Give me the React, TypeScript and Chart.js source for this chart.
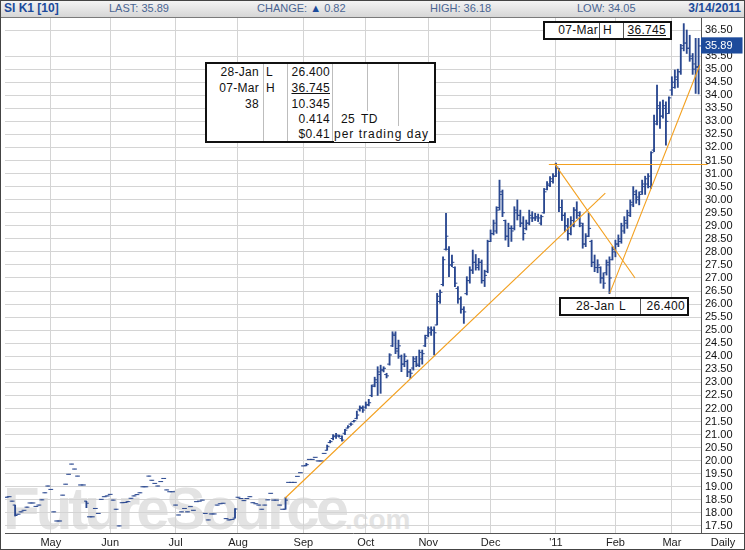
import React, { useEffect, useRef } from "react";
import { Chart, registerables } from "chart.js";

Chart.register(...registerables);

const FONT = 'Arial, "Liberation Sans", Helvetica, sans-serif';

// x axis: trading-day index, month labels at first trading day of the month
const monthLabels = ["May", "Jun", "Jul", "Aug", "Sep", "Oct", "Nov", "Dec", "'11", "Feb", "Mar"];
const monthTickIndex = [15, 35, 57, 78, 100, 121, 142, 163, 185, 205, 224];

const priceTicks = [
  17.5, 18, 18.5, 19, 19.5, 20, 20.5, 21, 21.5, 22, 22.5, 23, 23.5, 24, 24.5, 25, 25.5, 26, 26.5,
  27, 27.5, 28, 28.5, 29, 29.5, 30, 30.5, 31, 31.5, 32, 32.5, 33, 33.5, 34, 34.5, 35, 35.5, 36.5,
];
const lastPrice = 35.89;

// Daily OHLC, SI K1, 12-Apr-2010 .. 14-Mar-2011
const opens = [
  18.60, 18.62, 18.45, 18.30, 17.95, 18.04, 18.10, 18.22, 18.38, 18.38,
  18.25, 18.30, 18.50, 18.77, 19.03, 18.90, 18.04, 17.69, 17.69, 18.68,
  19.10, 19.48, 19.87, 19.68, 19.41, 19.07, 19.07, 18.45, 17.85, 17.85,
  18.17, 17.98, 18.52, 18.62, 18.65, 18.71, 18.49, 18.14, 17.50, 18.39,
  18.40, 18.43, 18.56, 18.65, 18.70, 18.77, 19.00, 19.00, 19.41, 19.25,
  19.13, 19.03, 19.20, 19.32, 18.88, 18.81, 18.81, 18.30, 17.92, 18.04,
  18.17, 18.04, 18.24, 18.10, 18.43, 18.45, 18.49, 17.98, 17.73, 17.96,
  17.96, 18.30, 18.35, 18.37, 17.78, 17.73, 17.75, 17.80, 18.60, 18.55,
  18.47, 18.55, 18.62, 18.39, 18.35, 18.30, 18.14, 18.30, 18.50, 18.75,
  18.49, 18.49, 18.30, 18.14, 18.14, 19.17, 19.17, 19.17, 19.40, 19.54,
  19.80, 19.82, 20.05, 20.05, 20.13, 19.99, 19.99, 20.28, 20.40, 20.70,
  20.85, 20.95, 20.94, 20.85, 21.05, 21.25, 21.40, 21.50, 21.62, 21.95,
  22.00, 22.05, 22.15, 22.50, 22.90, 23.00, 23.30, 23.45, 23.30, 23.70,
  24.40, 24.80, 24.20, 24.00, 23.70, 23.80, 23.40, 23.55, 23.80, 23.65,
  23.90, 24.40, 24.80, 24.90, 25.00, 25.20, 26.10, 26.75, 28.10, 28.10,
  27.50, 27.40, 26.60, 26.20, 25.80, 26.40, 26.90, 27.30, 27.60, 27.40,
  27.60, 26.90, 27.25, 28.40, 28.70, 28.80, 29.70, 30.30, 29.20, 28.60,
  28.90, 28.90, 29.50, 29.40, 29.10, 28.90, 29.10, 29.30, 29.30, 29.30,
  29.10, 29.50, 30.40, 30.55, 30.70, 30.90, 31.20, 29.70, 29.40, 29.00,
  28.70, 29.00, 29.60, 29.40, 29.00, 28.30, 28.60, 28.40, 27.60, 27.40,
  27.40, 27.00, 27.20, 27.50, 27.70, 28.00, 28.30, 28.40, 28.80, 29.10,
  29.40, 29.80, 30.20, 30.00, 30.30, 30.50, 30.60, 30.50, 31.90, 32.90,
  33.50, 33.20, 33.50, 33.30, 34.20, 34.30, 34.60, 34.90, 35.90, 36.00,
  35.80, 35.40, 35.20, 35.10,
];
const highs = [
  18.60, 18.62, 18.45, 18.30, 17.95, 18.04, 18.10, 18.22, 18.38, 18.38,
  18.25, 18.30, 18.50, 18.77, 19.03, 18.90, 18.04, 17.69, 17.69, 18.68,
  19.10, 19.48, 19.87, 19.68, 19.41, 19.07, 19.07, 18.45, 17.85, 17.85,
  18.17, 17.98, 18.52, 18.62, 18.65, 18.71, 18.49, 18.14, 17.50, 18.39,
  18.40, 18.43, 18.56, 18.65, 18.70, 18.77, 19.00, 19.00, 19.41, 19.25,
  19.13, 19.03, 19.20, 19.32, 18.88, 18.81, 18.81, 18.30, 17.92, 18.04,
  18.17, 18.04, 18.24, 18.10, 18.43, 18.45, 18.49, 17.98, 17.73, 17.96,
  17.96, 18.30, 18.35, 18.37, 17.78, 17.73, 17.75, 18.17, 18.60, 18.55,
  18.47, 18.55, 18.62, 18.39, 18.35, 18.30, 18.14, 18.30, 18.50, 18.75,
  18.49, 18.49, 18.30, 18.14, 18.60, 19.17, 19.17, 19.17, 19.40, 19.54,
  19.80, 19.90, 20.05, 20.05, 20.13, 19.99, 19.99, 20.28, 20.60, 20.78,
  21.00, 21.05, 20.98, 20.95, 21.20, 21.35, 21.45, 21.55, 21.90, 22.10,
  22.10, 22.25, 22.35, 22.90, 23.20, 23.60, 23.66, 23.60, 23.35, 24.10,
  24.94, 24.94, 24.62, 24.05, 24.10, 23.86, 23.50, 23.99, 24.00, 24.24,
  24.24, 24.81, 25.13, 25.13, 25.13, 26.41, 26.54, 27.81, 29.48, 28.20,
  27.88, 27.43, 26.67, 26.28, 25.90, 27.05, 27.43, 28.07, 27.90, 27.75,
  27.69, 27.30, 28.45, 28.84, 29.22, 29.73, 30.75, 30.37, 29.22, 29.10,
  29.00, 29.73, 29.99, 29.60, 29.35, 29.22, 29.60, 29.54, 29.48, 29.45,
  29.41, 30.43, 30.69, 30.88, 31.00, 31.40, 31.20, 29.99, 29.50, 29.28,
  29.35, 29.70, 29.92, 29.54, 29.10, 28.70, 29.48, 28.45, 27.88, 27.70,
  27.43, 27.20, 27.69, 27.81, 28.20, 28.45, 28.65, 29.10, 29.35, 29.60,
  29.99, 30.50, 30.37, 30.30, 30.75, 30.90, 31.00, 31.84, 33.24, 34.39,
  33.75, 33.82, 33.75, 33.94, 34.71, 34.97, 35.00, 35.95, 36.745, 36.50,
  36.30, 35.60, 36.18, 36.18,
];
const lows = [
  18.60, 18.62, 18.45, 17.88, 17.95, 18.04, 18.10, 18.22, 18.38, 18.38,
  18.25, 18.30, 18.50, 18.77, 19.03, 18.90, 18.04, 17.69, 17.69, 18.68,
  19.10, 19.48, 19.87, 19.68, 19.41, 19.07, 19.07, 18.20, 17.85, 17.85,
  18.17, 17.98, 18.52, 18.62, 18.65, 18.71, 18.49, 18.14, 17.50, 18.39,
  18.40, 18.43, 18.56, 18.65, 18.70, 18.77, 19.00, 19.00, 19.41, 19.25,
  19.13, 19.03, 19.20, 19.32, 18.88, 18.81, 18.81, 18.30, 17.92, 18.04,
  18.17, 18.04, 18.24, 18.10, 18.43, 18.45, 18.49, 17.98, 17.73, 17.96,
  17.96, 18.30, 18.35, 18.37, 17.78, 17.73, 17.75, 17.80, 18.60, 18.55,
  18.47, 18.55, 18.62, 18.39, 18.35, 18.30, 18.14, 18.30, 18.50, 18.75,
  18.49, 18.49, 18.30, 18.14, 18.14, 19.17, 19.17, 19.17, 19.40, 19.54,
  19.80, 19.80, 20.05, 20.05, 20.13, 19.99, 19.99, 20.28, 20.40, 20.68,
  20.80, 20.85, 20.90, 20.75, 21.00, 21.25, 21.35, 21.48, 21.60, 21.90,
  21.85, 22.00, 22.10, 22.45, 22.83, 22.50, 22.58, 23.40, 23.17, 23.66,
  24.37, 24.10, 23.92, 23.41, 23.60, 23.22, 23.15, 23.47, 23.60, 23.60,
  23.70, 24.37, 24.75, 24.80, 24.05, 25.20, 26.03, 26.70, 28.07, 27.05,
  27.43, 26.67, 26.03, 25.65, 25.26, 26.35, 26.80, 27.17, 27.30, 27.30,
  26.80, 26.67, 27.20, 28.39, 28.65, 28.71, 29.60, 29.35, 28.45, 28.20,
  28.40, 28.84, 29.22, 28.96, 28.45, 28.84, 29.03, 29.16, 29.20, 29.16,
  29.03, 29.48, 30.37, 30.50, 30.63, 30.88, 29.54, 29.20, 28.77, 28.45,
  28.65, 28.96, 29.28, 28.96, 28.14, 28.20, 28.58, 27.43, 27.24, 27.20,
  26.80, 26.60, 27.11, 26.40, 27.69, 27.81, 28.20, 28.33, 28.71, 28.90,
  29.35, 29.73, 29.86, 29.80, 30.20, 30.20, 30.45, 30.43, 31.84, 32.86,
  32.73, 33.12, 32.09, 33.30, 34.00, 34.27, 34.30, 34.80, 35.70, 35.60,
  35.30, 34.80, 34.07, 34.05,
];
const closes = [
  18.60, 18.62, 18.45, 17.90, 17.95, 18.04, 18.10, 18.22, 18.38, 18.38,
  18.25, 18.30, 18.50, 18.77, 19.03, 18.90, 18.04, 17.69, 17.69, 18.68,
  19.10, 19.48, 19.87, 19.68, 19.41, 19.07, 19.07, 18.37, 17.85, 17.85,
  18.17, 17.98, 18.52, 18.62, 18.65, 18.71, 18.49, 18.14, 17.50, 18.39,
  18.40, 18.43, 18.56, 18.65, 18.70, 18.77, 19.00, 19.00, 19.41, 19.25,
  19.13, 19.03, 19.20, 19.32, 18.88, 18.81, 18.81, 18.30, 17.92, 18.04,
  18.17, 18.04, 18.24, 18.10, 18.43, 18.45, 18.49, 17.98, 17.73, 17.96,
  17.96, 18.30, 18.35, 18.37, 17.78, 17.73, 17.75, 18.15, 18.60, 18.55,
  18.47, 18.55, 18.62, 18.39, 18.35, 18.30, 18.14, 18.30, 18.50, 18.75,
  18.49, 18.49, 18.30, 18.14, 18.49, 19.17, 19.17, 19.17, 19.40, 19.54,
  19.80, 19.85, 20.05, 20.05, 20.13, 19.99, 19.99, 20.28, 20.55, 20.73,
  20.92, 20.98, 20.94, 20.79, 21.17, 21.30, 21.40, 21.53, 21.75, 22.04,
  21.94, 22.13, 22.22, 22.85, 23.10, 23.40, 23.50, 23.54, 23.25, 24.05,
  24.85, 24.30, 24.40, 23.70, 24.00, 23.40, 23.35, 23.90, 23.70, 24.15,
  24.10, 24.70, 25.05, 25.00, 24.90, 26.30, 26.45, 27.70, 28.60, 27.50,
  27.60, 26.80, 26.20, 25.80, 25.70, 26.90, 27.30, 27.60, 27.50, 27.60,
  26.90, 27.10, 28.40, 28.70, 29.10, 29.60, 30.20, 29.50, 28.60, 28.90,
  28.80, 29.60, 29.40, 29.10, 28.70, 29.10, 29.40, 29.30, 29.35, 29.30,
  29.35, 30.30, 30.60, 30.80, 30.90, 31.25, 29.70, 29.40, 29.00, 28.70,
  29.20, 29.60, 29.50, 29.10, 28.30, 28.60, 28.90, 27.60, 27.40, 27.50,
  27.00, 26.80, 27.60, 27.00, 28.10, 28.30, 28.50, 29.00, 29.20, 29.50,
  29.90, 30.30, 30.10, 30.20, 30.60, 30.80, 30.90, 31.80, 33.00, 33.60,
  33.20, 33.60, 33.00, 33.90, 34.50, 34.70, 34.90, 35.80, 36.00, 35.80,
  35.50, 35.00, 35.07, 35.89,
];

// Hand-drawn trend lines (x = trading-day index, y = price)
const supportX = [93.9, 201.6];
const supportY = [18.57, 30.25];
const resistanceX = [182.6, 236.0];
const resistanceY = [31.35, 31.35];
const declineX = [184.5, 211.6];
const declineY = [31.38, 27.0];
const rallyX = [203.1, 233.4];
const rallyY = [26.42, 35.16];

const NAVY = "#2a4890";
const ORANGE = "#f3a01f";

const abs = (s: React.CSSProperties): React.CSSProperties => ({ position: "absolute", ...s });

const cellText: React.CSSProperties = {
  position: "absolute",
  fontFamily: FONT,
  fontSize: 12,
  color: "#111",
  lineHeight: "16px",
  whiteSpace: "nowrap",
  letterSpacing: "0.3px",
};

export default function App() {
  const ref = useRef<HTMLCanvasElement>(null);

  useEffect(() => {
    const canvas = ref.current;
    if (!canvas) return;
    const idx = highs.map((_, i) => i);
    const trend = (xs: number[], ys: number[], noClip?: boolean) => {
      const ds: any = {
        type: "line",
        data: xs.map((x, k) => ({ x, y: ys[k] })),
        borderColor: ORANGE,
        borderWidth: 1.1,
        pointRadius: 0,
        fill: false,
        tension: 0,
        order: 0,
      };
      if (noClip) ds.clip = false;
      return ds;
    };
    const tickSet = (vals: number[], rot: number) =>
      ({
        type: "line",
        data: idx.map((i) => ({ x: i, y: vals[i] })),
        showLine: false,
        pointStyle: "dash",
        pointRotation: rot,
        pointRadius: 2.4,
        pointBorderWidth: 1,
        pointBorderColor: NAVY,
        pointBackgroundColor: NAVY,
        order: 1,
      }) as any;
    const chart = new Chart(canvas, {
      type: "bar",
      data: {
        datasets: [
          trend(supportX, supportY),
          trend(resistanceX, resistanceY, true),
          trend(declineX, declineY),
          trend(rallyX, rallyY),
          tickSet(opens, 180),
          tickSet(closes, 0),
          {
            type: "bar",
            data: idx.map((i) => ({ x: i, y: [lows[i], highs[i]] })),
            backgroundColor: NAVY,
            borderWidth: 0,
            barThickness: 1.2,
            order: 2,
          } as any,
        ],
      },
      options: {
        responsive: false,
        animation: false,
        events: [],
        layout: { padding: { top: 18, left: 1, right: 1, bottom: 1 } },
        plugins: {
          legend: { display: false },
          tooltip: { enabled: false },
          title: { display: false },
        },
        scales: {
          x: {
            type: "linear",
            min: -0.4,
            max: 233.8,
            offset: false,
            grid: { color: "#d4d4d4", lineWidth: 1, drawTicks: false, offset: false },
            border: { color: "#555", width: 1 },
            afterBuildTicks: (s: any) => {
              s.ticks = monthTickIndex.map((v) => ({ value: v }));
            },
            afterFit: (s: any) => {
              s.height = 16;
            },
            ticks: {
              autoSkip: false,
              maxRotation: 0,
              padding: 3,
              font: { family: FONT, size: 11 },
              color: "#222",
              callback: (v: any) => {
                const k = monthTickIndex.indexOf(Number(v));
                return k >= 0 ? monthLabels[k] : "";
              },
            },
          },
          y: {
            type: "linear",
            position: "right",
            min: 17.23,
            max: 36.96,
            grid: {
              color: (c: any) => (c.tick && c.tick.value === lastPrice ? "rgba(0,0,0,0)" : "#d4d4d4"),
              drawTicks: false,
            },
            border: { color: "#555", width: 1 },
            afterBuildTicks: (s: any) => {
              s.ticks = [...priceTicks, lastPrice].sort((a, b) => a - b).map((v) => ({ value: v }));
            },
            afterFit: (s: any) => {
              s.width = 43;
            },
            ticks: {
              autoSkip: false,
              padding: 4,
              font: { family: FONT, size: 11 },
              color: (c: any) => (c.tick && c.tick.value === lastPrice ? "#ffffff" : "#111"),
              showLabelBackdrop: (c: any) => !!(c.tick && c.tick.value === lastPrice),
              backdropColor: "#1d4b9b",
              backdropPadding: { left: 4, right: 10, top: 2, bottom: 1 },
              callback: (v: any) => Number(v).toFixed(2),
            },
          },
        },
      } as any,
    });
    return () => chart.destroy();
  }, []);

  const hdr: React.CSSProperties = {
    position: "absolute",
    top: 0,
    fontFamily: FONT,
    fontSize: 11,
    lineHeight: "17px",
    color: "#4a6592",
    whiteSpace: "nowrap",
  };
  const hdrBold: React.CSSProperties = { ...hdr, fontWeight: "bold", fontSize: 12, color: "#1b4b9b" };

  return (
    <div style={abs({ left: 0, top: 0, width: 745, height: 550, background: "#fff", overflow: "hidden" })}>
      {/* watermark */}
      <div
        style={abs({
          left: 3,
          top: 479,
          fontFamily: FONT,
          fontWeight: "bold",
          fontSize: 60,
          lineHeight: "60px",
          letterSpacing: "-4px",
          color: "#e3e3e3",
          whiteSpace: "nowrap",
          zIndex: 0,
        })}
      >
        FutureSource<span style={{ fontSize: 28, letterSpacing: "0px", fontWeight: "bold" }}>.com</span>
      </div>

      <canvas ref={ref} width={745} height={550} style={abs({ left: 0, top: 0, width: 745, height: 550, zIndex: 1 })} />

      {/* header bar */}
      <div
        style={abs({
          left: 0,
          top: 0,
          width: 745,
          height: 17,
          background: "linear-gradient(#f6f6f6, #d6d6d6)",
          borderBottom: "1px solid #7a7a7a",
          zIndex: 2,
        })}
      >
        <div style={{ ...hdrBold, left: 4 }}>SI K1 [10]</div>
        <div style={{ ...hdr, left: 109 }}>LAST: 35.89</div>
        <div style={{ ...hdr, left: 257 }}>
          CHANGE: <span style={{ color: "#1b4b9b" }}>▲</span> 0.82
        </div>
        <div style={{ ...hdr, left: 430 }}>HIGH: 36.18</div>
        <div style={{ ...hdr, left: 577 }}>LOW: 34.05</div>
        <div style={{ ...hdrBold, right: 4 }}>3/14/2011</div>
      </div>

      {/* summary table */}
      <div style={abs({ left: 205, top: 62, width: 231, height: 81, boxSizing: "border-box", border: "2px solid #111", background: "#fff", zIndex: 3 })}>
        <div style={abs({ left: 56, top: 0, width: 1, height: 77, background: "#bdbdbd" })} />
        <div style={abs({ left: 80, top: 0, width: 1, height: 77, background: "#bdbdbd" })} />
        <div style={abs({ left: 125, top: 0, width: 1, height: 77, background: "#bdbdbd" })} />
        <div style={abs({ left: 160, top: 0, width: 1, height: 47, background: "#bdbdbd" })} />
        <div style={abs({ left: 191, top: 0, width: 1, height: 62, background: "#bdbdbd" })} />
        {/* row 1 */}
        <div style={{ ...cellText, right: 175, top: 0 }}>28-Jan</div>
        <div style={{ ...cellText, left: 59, top: 0 }}>L</div>
        <div style={{ ...cellText, right: 104, top: 0 }}>26.400</div>
        {/* row 2 */}
        <div style={{ ...cellText, right: 175, top: 16 }}>07-Mar</div>
        <div style={{ ...cellText, left: 59, top: 16 }}>H</div>
        <div style={{ ...cellText, right: 104, top: 16, textDecoration: "underline" }}>36.745</div>
        {/* row 3 */}
        <div style={{ ...cellText, right: 175, top: 32 }}>38</div>
        <div style={{ ...cellText, right: 104, top: 32 }}>10.345</div>
        {/* row 4 */}
        <div style={{ ...cellText, right: 104, top: 47 }}>0.414</div>
        <div style={{ ...cellText, right: 79, top: 47 }}>25</div>
        <div style={{ ...cellText, left: 153, top: 47, paddingLeft: 1, background: "#fff" }}>TD</div>
        {/* row 5 */}
        <div style={{ ...cellText, right: 104, top: 62 }}>$0.41</div>
        <div style={{ ...cellText, left: 127, top: 62, letterSpacing: "1px", background: "#fff" }}>per trading day</div>
      </div>

      {/* high label box */}
      <div style={abs({ left: 543, top: 21, width: 129, height: 19, boxSizing: "border-box", border: "2px solid #111", background: "#fff", zIndex: 3 })}>
        <div style={abs({ left: 54, top: 0, width: 1, height: 15, background: "#555" })} />
        <div style={abs({ left: 78, top: 0, width: 1, height: 15, background: "#555" })} />
        <div style={{ ...cellText, right: 72, top: -1 }}>07-Mar</div>
        <div style={{ ...cellText, left: 58, top: -1 }}>H</div>
        <div style={{ ...cellText, right: 4, top: -1, textDecoration: "underline" }}>36.745</div>
      </div>

      {/* low label box */}
      <div style={abs({ left: 559, top: 297, width: 130, height: 19, boxSizing: "border-box", border: "2px solid #111", background: "#fff", zIndex: 3 })}>
        <div style={abs({ left: 79, top: 0, width: 1, height: 15, background: "#555" })} />
        <div style={{ ...cellText, left: 15, top: -1 }}>28-Jan</div>
        <div style={{ ...cellText, left: 58, top: -1 }}>L</div>
        <div style={{ ...cellText, right: 2, top: -1 }}>26.400</div>
      </div>

      {/* axis corner */}
      <div style={abs({ left: 701, top: 533, width: 44, height: 1, background: "#555", zIndex: 3 })} />
      <div
        style={abs({
          left: 701,
          top: 535,
          width: 44,
          textAlign: "center",
          fontFamily: FONT,
          fontSize: 11,
          lineHeight: "14px",
          color: "#222",
          zIndex: 3,
        })}
      >
        Daily
      </div>

      {/* outer frame */}
      <div style={abs({ left: 0, top: 0, width: 745, height: 550, boxSizing: "border-box", border: "1px solid #444", zIndex: 4, pointerEvents: "none" })} />
    </div>
  );
}
